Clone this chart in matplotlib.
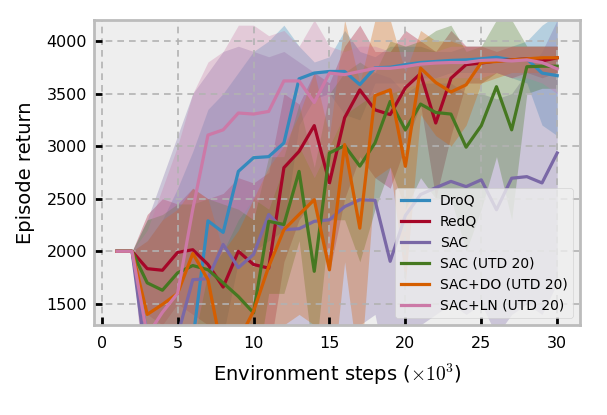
import numpy as np
import matplotlib
matplotlib.use("Agg")
import matplotlib.pyplot as plt

plt.style.use("bmh")

steps = np.arange(1, 31)

droq = [2000, 2000, 1200, 1100, 1200, 1150, 2290, 2180, 2760, 2890, 2900, 3030, 3640, 3695, 3710,
        3710, 3585, 3745, 3750, 3775, 3795, 3805, 3815, 3820, 3830, 3845, 3820, 3830, 3695, 3670]
droq_hi = [2000, 2000, 2100, 2300, 2600, 2950, 3350, 3500, 3700, 3900, 4000, 4150, 3950, 3800, 3850,
           4100, 3900, 3850, 3950, 3950, 3950, 3900, 3900, 3950, 3950, 3950, 3950, 4000, 4150, 4250]
droq_lo = [2000, 2000, 800, 700, 700, 700, 1300, 1200, 1900, 2000, 2100, 2200, 3200, 3450, 3500,
           3300, 3250, 3600, 3600, 3600, 3650, 3650, 3700, 3700, 3700, 3700, 3650, 3600, 3200, 3100]

redq = [2000, 2000, 1835, 1820, 1990, 2015, 1875, 1660, 2000, 1875, 1840, 2795, 2950, 3195, 2650,
        3270, 3535, 3345, 3300, 3555, 3690, 3220, 3645, 3775, 3790, 3810, 3820, 3830, 3810, 3840]
redq_hi = [2000, 2000, 2350, 2500, 2450, 2600, 2500, 2550, 2700, 2650, 2750, 3500, 3400, 3700, 3600,
           3950, 4150, 3900, 3900, 4100, 4000, 3900, 4100, 3950, 3950, 3900, 3950, 3950, 3950, 3950]
redq_lo = [2000, 2000, 1400, 1300, 1500, 1400, 1300, 900, 1200, 1100, 1000, 1900, 2300, 2500, 1800,
           2500, 2900, 2700, 2600, 3000, 3400, 2500, 3100, 3600, 3600, 3700, 3650, 3700, 3650, 3700]

sac = [2000, 2000, 900, 800, 1200, 1730, 1740, 2065, 1845, 1970, 2350, 2205, 2215, 2285, 2300,
       2425, 2490, 2485, 1905, 2340, 2540, 2605, 2665, 2615, 2680, 2395, 2695, 2710, 2650, 2935]
sac_hi = [2000, 2000, 2300, 2700, 3100, 3500, 3700, 3900, 3950, 3900, 3850, 3900, 3800, 3700, 3700,
          3700, 3600, 3700, 3650, 3500, 3600, 3600, 3600, 3500, 3500, 3450, 3500, 3700, 3900, 4200]
sac_lo = [2000, 2000, 500, 400, 400, 900, 900, 1000, 900, 1000, 1300, 1200, 1100, 1100, 1100,
          1300, 1300, 1400, 700, 1100, 1300, 1400, 1500, 1400, 1500, 1200, 1400, 1500, 1400, 1700]

sac_utd = [2000, 2000, 1700, 1630, 1795, 1865, 1825, 1700, 1570, 1415, 2285, 2255, 2760, 1810, 2935,
           3005, 2810, 3030, 3425, 3155, 3400, 3320, 3305, 2990, 3195, 3565, 3155, 3755, 3760, 3760]
sac_utd_hi = [2000, 2000, 2300, 2350, 2450, 2450, 2500, 2450, 2400, 2300, 2900, 2900, 3400, 2800, 3500,
              3700, 3800, 3700, 4000, 3950, 4000, 4100, 4150, 3900, 3950, 4200, 4200, 3950, 3950, 3950]
sac_utd_lo = [2000, 2000, 1200, 1100, 1200, 1300, 1200, 1000, 900, 700, 1600, 1600, 2100, 900, 2300,
              2300, 1900, 2400, 2800, 2400, 2700, 2500, 2500, 2000, 2400, 2900, 2300, 3500, 3550, 3550]

sac_do = [2000, 2000, 1400, 1495, 1600, 1980, 1730, 1000, 1150, 1430, 1855, 2205, 2350, 2490, 1825,
          3015, 2220, 3480, 3535, 2808, 3742, 3605, 3515, 3583, 3795, 3805, 3820, 3830, 3840, 3840]
sac_do_hi = [2000, 2000, 2100, 2300, 2400, 2600, 2500, 2000, 2200, 2500, 2800, 3000, 3300, 3700, 3100,
             4200, 3600, 4200, 4200, 3700, 4100, 4000, 4000, 3950, 3950, 3950, 3950, 3950, 3950, 3950]
sac_do_lo = [2000, 2000, 800, 800, 900, 1300, 900, 300, 400, 600, 1000, 1300, 1400, 1300, 500,
             1900, 800, 2700, 2800, 1700, 3300, 3100, 3000, 3200, 3600, 3650, 3700, 3700, 3700, 3700]

sac_ln = [2000, 2000, 1200, 1420, 1600, 2400, 3105, 3155, 3315, 3305, 3330, 3620, 3620, 3415, 3695,
          3680, 3710, 3740, 3740, 3757, 3780, 3790, 3795, 3795, 3815, 3820, 3810, 3820, 3795, 3735]
sac_ln_hi = [2000, 2000, 2200, 2600, 3000, 3500, 3800, 3900, 4150, 4150, 4050, 4100, 3950, 4200, 3950,
             3900, 3950, 3950, 3900, 3900, 3900, 3900, 3950, 3950, 3950, 3950, 3950, 3950, 3950, 3950]
sac_ln_lo = [2000, 2000, 400, 500, 700, 1100, 1800, 2000, 2300, 2500, 2400, 2800, 3000, 2700, 3000,
             3300, 3400, 3500, 3500, 3550, 3600, 3650, 3650, 3650, 3650, 3700, 3650, 3650, 3600, 3500]

names = ["DroQ", "RedQ", "SAC", "SAC (UTD 20)", "SAC+DO (UTD 20)", "SAC+LN (UTD 20)"]
means = [droq, redq, sac, sac_utd, sac_do, sac_ln]
highs = [droq_hi, redq_hi, sac_hi, sac_utd_hi, sac_do_hi, sac_ln_hi]
lows = [droq_lo, redq_lo, sac_lo, sac_utd_lo, sac_do_lo, sac_ln_lo]

fig = plt.figure(figsize=(6.07, 4.15), dpi=100)
ax = fig.add_axes([0.155, 0.217, 0.8005, 0.735])

for name, m, hi, lo in zip(names, means, highs, lows):
    line, = ax.plot(steps, m, label=name, lw=2.3)
    ax.fill_between(steps, lo, hi, color=line.get_color(), alpha=0.3, lw=0)

ax.set_xlim(-0.5, 31.5)
ax.set_ylim(1300, 4200)
ax.set_xticks([0, 5, 10, 15, 20, 25, 30])
ax.set_yticks([1500, 2000, 2500, 3000, 3500, 4000])
ax.tick_params(direction="in", length=6, width=2, color="black", labelsize=11.5)
ax.tick_params(axis="x", pad=8)
ax.tick_params(axis="y", pad=5)
ax.grid(True, linestyle=(0, (4, 3)), color="#b2b2b2", linewidth=1.2)
for s in ax.spines.values():
    s.set_color("#bcbcbc")
    s.set_linewidth(2)

ax.set_xlabel(r"Environment steps ($\times10^3$)", fontsize=14, labelpad=8)
ax.set_ylabel("Episode return", fontsize=14, labelpad=8)
ax.legend(loc="lower right", fontsize=10, borderaxespad=0.5)

fig.savefig("out.png", dpi=100, facecolor="white")
